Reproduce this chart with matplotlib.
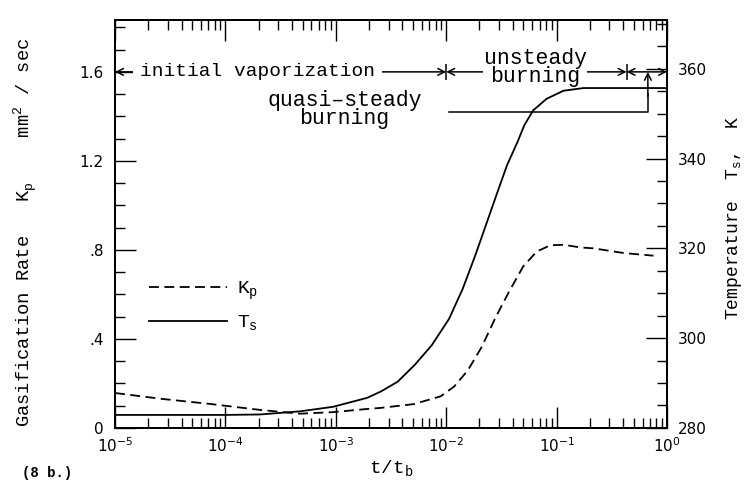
import matplotlib
matplotlib.use("Agg")
import matplotlib.pyplot as plt
import numpy as np
from matplotlib.ticker import FixedLocator, MultipleLocator, LogLocator, NullFormatter
from matplotlib.lines import Line2D

# ---- data ----
t_kp = [1.0e-5, 2.6e-5, 7.2e-5, 2.06e-4, 4.74e-4, 9.4e-4, 1.9e-3, 2.54e-3, 5.07e-3,
        8.89e-3, 1.18e-2, 1.57e-2, 2.09e-2, 2.8e-2, 3.73e-2, 4.98e-2, 6.61e-2,
        8.79e-2, 0.116, 0.164, 0.216, 0.404, 0.753]
kp = [0.157, 0.131, 0.108, 0.081, 0.064, 0.071, 0.085, 0.090, 0.107,
      0.142, 0.186, 0.259, 0.363, 0.497, 0.615, 0.726, 0.793,
      0.821, 0.823, 0.811, 0.807, 0.786, 0.774]

t_ts = [1.0e-5, 1.0e-4, 2.06e-4, 4.74e-4, 9.4e-4, 1.92e-3, 2.55e-3, 3.63e-3, 5.16e-3,
        7.38e-3, 1.06e-2, 1.41e-2, 1.83e-2, 2.28e-2, 2.84e-2, 3.55e-2, 4.42e-2,
        5.09e-2, 6.11e-2, 8.1e-2, 0.115, 0.175, 0.4, 1.0]
ts = [282.9, 282.9, 283.0, 283.7, 284.7, 286.7, 288.1, 290.3, 294.0,
      298.4, 304.3, 311.0, 318.4, 325.1, 331.8, 338.5, 343.7,
      347.4, 350.7, 353.3, 355.1, 355.7, 355.7, 355.7]

phase_bounds = [1e-5, 1e-2, 0.43, 1.0]
phase_labels = ["initial vaporization", "unsteady\nburning", "quasi\u2013steady\nburning"]
quasi_start = 0.67

left_ticks = [0, 0.4, 0.8, 1.2, 1.6]
left_ticklabels = ["0", ".4", ".8", "1.2", "1.6"]
right_ticks = [280, 300, 320, 340, 360]

MONO = "Liberation Mono"
SANS = "DejaVu Sans"

fig = plt.figure(figsize=(7.47, 4.83), dpi=100)
ax = fig.add_axes([0.154, 0.114, 0.739, 0.845])
ax2 = ax.twinx()

ax.set_xscale("log")
ax.set_xlim(1e-5, 1.0)
ax.set_ylim(0, 1.834)
ax2.set_ylim(280, 370.9)

lw = 1.3
ax.plot(t_kp, kp, color="black", lw=lw, dashes=(5.5, 3))
ax2.plot(t_ts, ts, color="black", lw=lw)

# ticks
ax.yaxis.set_major_locator(FixedLocator(left_ticks))
ax.set_yticklabels(left_ticklabels)
ax.yaxis.set_minor_locator(MultipleLocator(0.1))
ax2.yaxis.set_major_locator(FixedLocator(right_ticks))
ax2.yaxis.set_minor_locator(MultipleLocator(5))
ax.xaxis.set_major_locator(LogLocator(base=10, numticks=10))
ax.xaxis.set_minor_locator(LogLocator(base=10, subs=np.arange(2, 10), numticks=20))
ax.xaxis.set_minor_formatter(NullFormatter())

ax.tick_params(axis="both", which="major", direction="in", length=15, width=1.0,
               labelsize=11, top=True)
ax.tick_params(axis="both", which="minor", direction="in", length=7, width=1.0, top=True)
ax.tick_params(axis="y", which="both", right=False)
ax.tick_params(axis="x", which="major", pad=6)
ax.tick_params(axis="y", which="major", pad=8)
ax2.tick_params(axis="y", which="major", direction="in", length=15, width=1.0, labelsize=11, pad=8)
ax2.tick_params(axis="y", which="minor", direction="in", length=7, width=1.0)
for a in (ax, ax2):
    for s in a.spines.values():
        s.set_linewidth(1.3)
for lab in ax.get_xticklabels() + ax.get_yticklabels() + ax2.get_yticklabels():
    lab.set_family(SANS)

# axis labels
ax.set_ylabel("Gasification Rate   K$_\\mathregular{p}$    mm$^\\mathregular{2}$ / sec",
              family=MONO, fontsize=13.5)
ax.yaxis.set_label_coords(-0.138, 0.478)
ax2.set_ylabel("Temperature  T$_\\mathregular{s}$,  K", family=MONO, fontsize=13)
ax2.yaxis.set_label_coords(1.103, 0.515)
ax.set_xlabel("t/t$_\\mathregular{b}$", family=MONO, fontsize=14, labelpad=3)

# phase arrows along the top
yline = 1.6
for a0, a1 in zip(phase_bounds[:-1], phase_bounds[1:]):
    ax.annotate("", xy=(a0, yline), xytext=(a1, yline),
                arrowprops=dict(arrowstyle="<->", color="black", lw=1.1,
                                shrinkA=0, shrinkB=0, mutation_scale=12))
ax.plot(phase_bounds[1:3], [yline, yline], ls="none", marker="|", ms=12,
        mew=1.1, color="black")

tprops = dict(family=MONO, ha="center", va="center", zorder=6)
ax.text(1.94e-4, yline, phase_labels[0], fontsize=14,
        bbox=dict(facecolor="white", edgecolor="none", pad=5), **tprops)
ax.text(0.064, yline + 0.02, phase_labels[1], fontsize=15.5, linespacing=0.8,
        bbox=dict(facecolor="white", edgecolor="none", pad=0.5), **tprops)
ax.text(1.2e-3, 1.43, phase_labels[2], fontsize=15.5, linespacing=0.8, **tprops)

# quasi-steady leader
ax.plot([0.0105, quasi_start, quasi_start], [1.42, 1.42, 1.5], color="black", lw=1.1)
ax.annotate("", xy=(quasi_start, yline), xytext=(quasi_start, 1.49),
            arrowprops=dict(arrowstyle="->", color="black", lw=1.1,
                            shrinkA=0, shrinkB=0, mutation_scale=12))

# legend
handles = [Line2D([], [], color="black", lw=lw, dashes=(5.5, 3)),
           Line2D([], [], color="black", lw=lw)]
leg = ax.legend(handles, ["K$_\\mathregular{p}$", "T$_\\mathregular{s}$"],
                loc="upper left", bbox_to_anchor=(0.062, 0.363), frameon=False,
                prop=dict(family=MONO, size=14), handlelength=4.0,
                handletextpad=0.5, labelspacing=0.6, borderpad=0, borderaxespad=0)

fig.text(0.03, 0.012, "(8 b.)", family=MONO, fontsize=10, fontweight="bold")

fig.savefig("out.png", dpi=100)
